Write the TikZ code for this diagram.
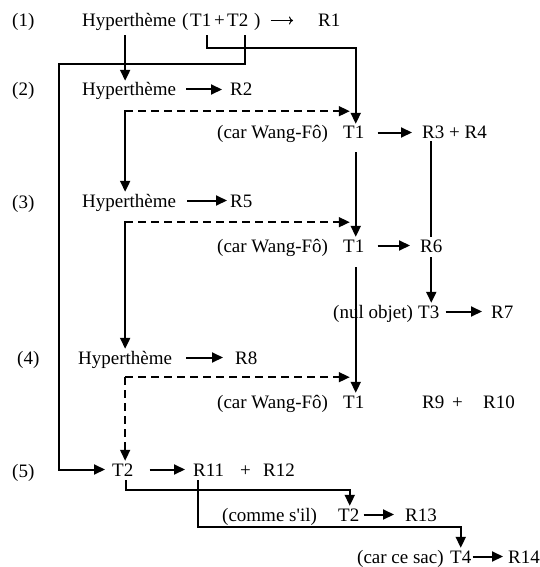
\documentclass[tikz,border=0pt]{standalone}
\usepackage{fontspec}
\setmainfont{Liberation Serif}
\usetikzlibrary{arrows.meta}

\begin{document}
\begin{tikzpicture}[x=1pt,y=-1pt,
  lbl/.style={anchor=base west,inner sep=0pt,text height=15pt,text depth=2pt,font=\fontsize{19}{22}\selectfont},
  arr/.style={line width=2pt,-{Triangle[length=11pt,width=10pt]}},
  dasharr/.style={line width=1.6pt,dash pattern=on 8pt off 5pt,-{Triangle[length=11pt,width=10pt]}},
  thinarr/.style={line width=1pt,-{To[length=4pt,width=8pt]}},
  seg/.style={line width=2pt}]
  \useasboundingbox (0,0) rectangle (540,567);
  % (1)
  \node[lbl] (n1) at (12,27) {(1)};
  \node[lbl] (h1) at (82,27) {Hyperthème};
  \node[lbl] (op) at (182,27) {(};
  \node[lbl] (ta) at (190,27) {T1};
  \node[lbl] (pl) at (214,27) {+};
  \node[lbl] (tb) at (227,27) {T2};
  \node[lbl] (cp) at (254,27) {)};
  \node[lbl] (r1) at (318,27) {R1};
  % (2)
  \node[lbl] (n2) at (12,96) {(2)};
  \node[lbl] (h2) at (82,96) {Hyperthème};
  \node[lbl] (r2) at (230,96) {R2};
  \node[lbl] (w1) at (217,139) {(car Wang-Fô)};
  \node[lbl] (tw1) at (343,139) {T1};
  \node[lbl] (r34) at (422,139) {R3 + R4};
  % (3)
  \node[lbl] (n3) at (12,208) {(3)};
  \node[lbl] (h3) at (82,207) {Hyperthème};
  \node[lbl] (r5) at (230,207) {R5};
  \node[lbl] (w2) at (217,252) {(car Wang-Fô)};
  \node[lbl] (tw2) at (343,252) {T1};
  \node[lbl] (r6) at (420,252) {R6};
  \node[lbl] (w3) at (333,318) {(nul objet)};
  \node[lbl] (t3) at (418,318) {T3};
  \node[lbl] (r7) at (491,318) {R7};
  % (4)
  \node[lbl] (n4) at (17,364) {(4)};
  \node[lbl] (h4) at (78,364) {Hyperthème};
  \node[lbl] (r8) at (235,364) {R8};
  \node[lbl] (w4) at (217,408) {(car Wang-Fô)};
  \node[lbl] (tw3) at (343,408) {T1};
  \node[lbl] (r9) at (422,408) {R9};
  \node[lbl] (p9) at (452,408) {+};
  \node[lbl] (r10) at (483,408) {R10};
  % (5)
  \node[lbl] (n5) at (12,477) {(5)};
  \node[lbl] (t2e) at (112,476) {T2};
  \node[lbl] (r11) at (193,476) {R11};
  \node[lbl] (p11) at (240,476) {+};
  \node[lbl] (r12) at (263,476) {R12};
  \node[lbl] (w5) at (222,521) {(comme s\textquotesingle il)};
  \node[lbl] (t2b) at (338,521) {T2};
  \node[lbl] (r13) at (405,521) {R13};
  \node[lbl] (w6) at (357,563) {(car ce sac)};
  \node[lbl] (t4) at (450,563) {T4};
  \node[lbl] (r14) at (508,563) {R14};

  \draw[thinarr,shorten <=10pt,shorten >=25pt] (cp.east) -- (r1.west);
  \draw[arr] ([xshift=-4pt,yshift=-6pt]h1.south) -- ([xshift=-4pt]h2.north);
  \draw[arr] ([xshift=6pt,yshift=-6pt]ta.south) -- ++(0,13) -| ([xshift=2pt]tw1.north);
  \draw[arr,shorten >=7pt] ([xshift=7pt,yshift=-6pt]tb.south) -- ++(0,29) -| ([xshift=-53pt]t2e.west) -- (t2e.west);

  \draw[arr,shorten <=10pt,shorten >=8pt] (h2.east) -- (r2.west);
  \draw[dasharr,shorten >=4pt] ([xshift=-4pt,yshift=-13pt]h2.south) coordinate (d2) -- (d2 -| tw1.north);
  \draw[arr] ([xshift=-4pt,yshift=-12pt]h2.south) -- ([xshift=-4pt]h3.north);
  \draw[arr,shorten <=13pt,shorten >=10pt] (tw1.east) -- (r34.west);
  \draw[arr] ([xshift=2pt,yshift=-11pt]tw1.south) -- ([xshift=2pt]tw2.north);
  \draw[seg] (r34.south -| r6.north) -- (r6.north);

  \draw[arr,shorten <=11pt,shorten >=3pt] (h3.east) -- (r5.west);
  \draw[dasharr,shorten >=4pt] ([xshift=-4pt,yshift=-13pt]h3.south) coordinate (d3) -- (d3 -| tw2.north);
  \draw[arr] ([xshift=-4pt,yshift=-12pt]h3.south) -- (h4.north);
  \draw[arr,shorten <=13pt,shorten >=10pt] (tw2.east) -- (r6.west);
  \draw[arr,shorten <=3pt] (r6.south) -- (r6.south |- t3.north);
  \draw[arr,shorten <=6pt,shorten >=9pt] (t3.east) -- (r7.west);
  \draw[arr] ([xshift=2pt,yshift=-13pt]tw2.south) -- ([xshift=2pt]tw3.north);

  \draw[arr,shorten <=14pt,shorten >=12pt] (h4.east) -- (r8.west);
  \draw[dasharr,shorten >=4pt] ([yshift=-11pt]h4.south) coordinate (d4) -- (d4 -| tw3.north);
  \draw[dasharr] (d4) -- (d4 |- t2e.north);

  \draw[arr,shorten <=16pt,shorten >=8pt] (t2e.east) -- (r11.west);
  \draw[arr] ([xshift=3pt,yshift=-2pt]t2e.south) -- ++(0,10) -| ([xshift=1pt]t2b.north);
  \draw[arr] ([xshift=-11pt,yshift=-2pt]r11.south) -- ++(0,47) -| (t4.north);
  \draw[arr,shorten <=4pt,shorten >=11pt] (t2b.east) -- (r13.west);
  \draw[arr,shorten <=1pt,shorten >=5pt] (t4.east) -- (r14.west);
\end{tikzpicture}
\end{document}
